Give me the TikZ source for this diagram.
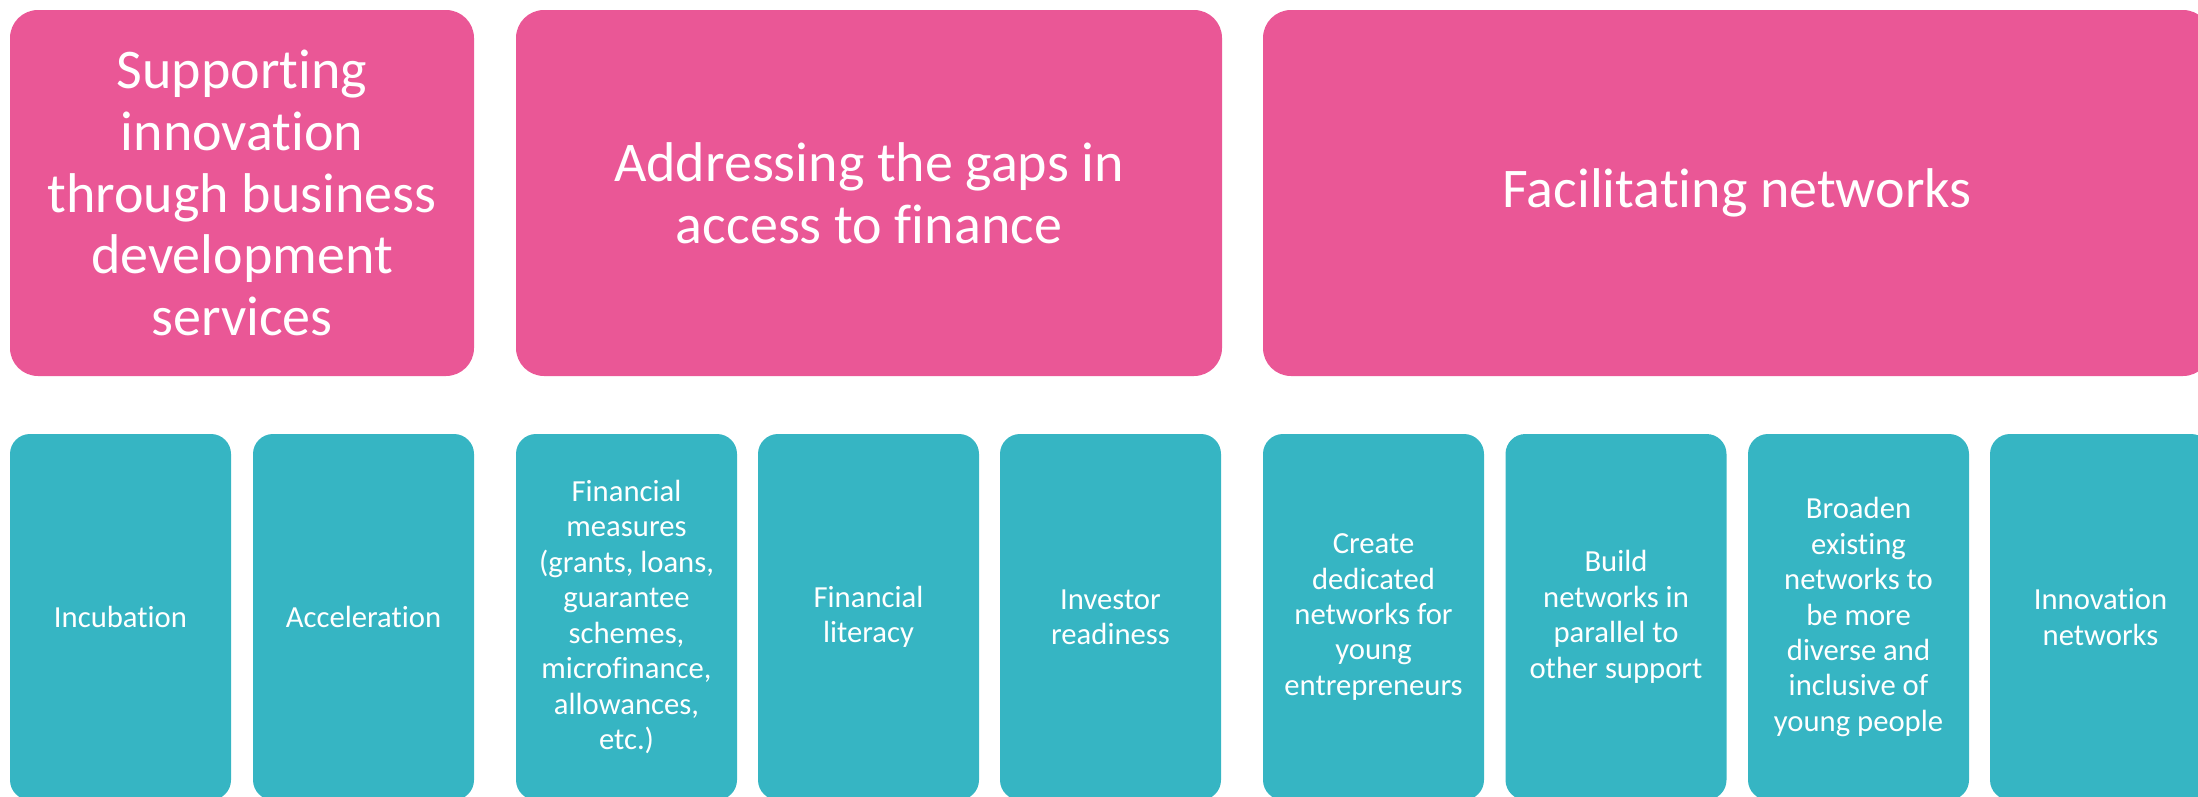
\documentclass[tikz,border=0pt]{standalone}
\usepackage{fontspec}
\setmainfont{Carlito}[Ligatures=NoCommon]
\definecolor{pinkbox}{RGB}{234,87,150}
\definecolor{tealbox}{RGB}{54,181,195}
\begin{document}
\begin{tikzpicture}[x=0.75pt,y=-0.75pt,
  head/.style={fill=pinkbox, rounded corners=21pt, text=white,
    font=\fontsize{42}{46.3}\selectfont, align=center, inner sep=0pt,
    minimum height=274.5pt},
  item/.style={fill=tealbox, rounded corners=15pt, text=white,
    font=\fontsize{23}{26.6}\selectfont, align=center, inner sep=0pt,
    minimum width=165.75pt, minimum height=274.5pt}]
\useasboundingbox (0,0) rectangle (2198,796);
\clip (0,0) rectangle (2198,796);
\node[head, minimum width=348pt] (h1) at (242,193) {Supporting\\innovation\\through business\\development\\services};
\node[head, minimum width=529.5pt] (h2) at (869,193) {Addressing the gaps in\\access to finance};
\node[head, minimum width=711pt] (h3) at (1737,193) {Facilitating networks};
\node[item] (i1) at (120.5,617) {Incubation};
\node[item] (i2) at (363.5,617) {Acceleration};
\node[item] (i3) at (626.5,617) {Financial\\measures\\(grants, loans,\\guarantee\\schemes,\\microfinance,\\allowances,\\etc.)};
\node[item] (i4) at (868.5,617) {Financial\\literacy};
\node[item] (i5) at (1110.5,617) {Investor\\readiness};
\node[item] (i6) at (1373.5,617) {Create\\dedicated\\networks for\\young\\entrepreneurs};
\node[item] (i7) at (1616,617) {Build\\networks in\\parallel to\\other support};
\node[item] (i8) at (1858.5,617) {Broaden\\existing\\networks to\\be more\\diverse and\\inclusive of\\young people};
\node[item] (i9) at (2100.5,617) {Innovation\\networks};
\end{tikzpicture}
\end{document}
